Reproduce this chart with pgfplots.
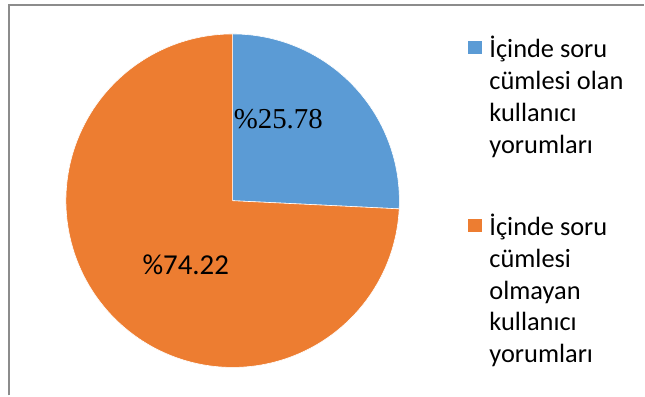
\documentclass[border=0pt]{standalone}
\usepackage{pgfplots}
\pgfplotsset{compat=1.18}
\usepackage{fontspec}
\setmainfont{Carlito}
\newfontfamily\seriffont{Liberation Serif}
\definecolor{sliceblue}{HTML}{5B9BD5}
\definecolor{sliceorange}{HTML}{ED7D31}
\definecolor{framegray}{HTML}{8C8C8C}

% shares of user comments (percent)
\def\shareQ{25.78}   % with a question sentence
\def\shareN{74.22}   % without a question sentence

\begin{document}
\begin{tikzpicture}
\begin{axis}[
  scale only axis, width=645bp, height=396bp,
  xmin=0, xmax=645, ymin=0, ymax=396,
  hide axis, clip=false,
]
  % background and frame
  \fill[white] (axis cs:0,0) rectangle (axis cs:645,396);
  \draw[framegray, line width=2bp] (axis cs:9,0) -- (axis cs:9,391) -- (axis cs:645,391);

  \pgfmathsetmacro{\angQ}{90-3.6*\shareQ}
  % slice: with a question sentence (clockwise from 12 o'clock)
  \addplot[fill=sliceblue, draw=white, line width=0.6bp, domain=\angQ:90, samples=120]
    ({233+167*cos(x)}, {195+167*sin(x)}) -- (axis cs:233,195) -- cycle;
  % slice: without a question sentence
  \addplot[fill=sliceorange, draw=white, line width=0.6bp, domain=90:360+\angQ, samples=240]
    ({233+167*cos(x)}, {195+167*sin(x)}) -- (axis cs:233,195) -- cycle;

  % value labels
  \node[anchor=west, inner sep=0pt]
    at (axis cs:234,277) {\seriffont\fontsize{29}{30}\selectfont\%\shareQ};
  \node[anchor=center, inner sep=0pt]
    at (axis cs:186,131) {\fontsize{29}{30}\selectfont\%\shareN};

  % legend
  \fill[sliceblue] (axis cs:469,342) rectangle (axis cs:483,355);
  \node[anchor=north west, inner sep=0pt, align=left, font=\fontsize{26.5}{32}\selectfont]
    at (axis cs:490,360) {İçinde soru\\cümlesi olan\\kullanıcı\\yorumları};
  \fill[sliceorange] (axis cs:469,164) rectangle (axis cs:483,177);
  \node[anchor=north west, inner sep=0pt, align=left, font=\fontsize{26.5}{32}\selectfont]
    at (axis cs:490,182) {İçinde soru\\cümlesi\\olmayan\\kullanıcı\\yorumları};
\end{axis}
\end{tikzpicture}
\end{document}
